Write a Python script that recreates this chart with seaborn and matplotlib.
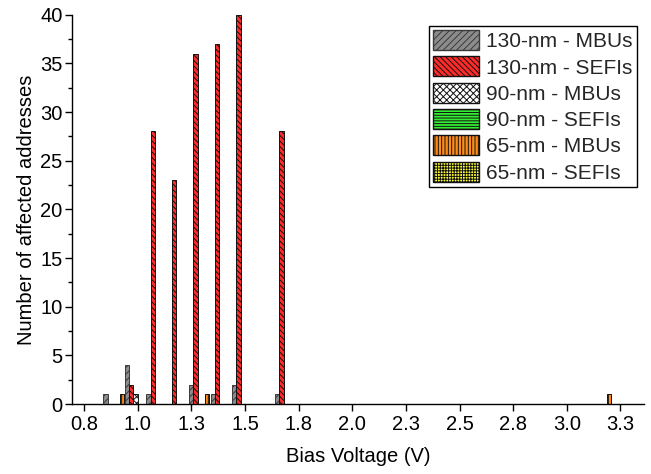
import matplotlib
matplotlib.use("Agg")
import matplotlib.pyplot as plt
import seaborn as sns
import numpy as np
import pandas as pd
from matplotlib.patches import Patch
from matplotlib.ticker import MultipleLocator, FixedLocator

# ---- data ----
series_names = ["130-nm - MBUs", "130-nm - SEFIs", "90-nm - MBUs",
                "90-nm - SEFIs", "65-nm - MBUs", "65-nm - SEFIs"]
mbu130_v = [0.85, 0.95, 1.05, 1.25, 1.35, 1.45, 1.65]
mbu130_n = [1, 4, 1, 2, 1, 2, 1]
sefi130_v = [0.97, 1.07, 1.17, 1.27, 1.37, 1.47, 1.67]
sefi130_n = [2, 28, 23, 36, 37, 40, 28]
mbu90_v = [0.99]
mbu90_n = [1]
sefi90_v = []
sefi90_n = []
mbu65_v = [0.926, 1.324, 3.197]
mbu65_n = [1, 1, 1]
sefi65_v = []
sefi65_n = []

xtick_vals = [0.75, 1.0, 1.25, 1.5, 1.75, 2.0, 2.25, 2.5, 2.75, 3.0, 3.25]
xtick_labels = ["0.8", "1.0", "1.3", "1.5", "1.8", "2.0", "2.3", "2.5", "2.8", "3.0", "3.3"]

series_v = [mbu130_v, sefi130_v, mbu90_v, sefi90_v, mbu65_v, sefi65_v]
series_n = [mbu130_n, sefi130_n, mbu90_n, sefi90_n, mbu65_n, sefi65_n]

# ---- styles ----
faces = ["#8c8c8c", "#ff2a2a", "#ffffff", "#33ee33", "#ff8c1a", "#ffff33"]
hatch_cols = ["#3a3a3a", "#111111", "#111111", "#111111", "#111111", "#111111"]
BSL = chr(92)
hatches = ["/" * 5, BSL * 6, "x" * 5, "-" * 6, "|" * 5, "+" * 6]
BAR_W = 0.0205

sns.set_style("ticks")
plt.rcParams["font.family"] = ["Liberation Sans", "DejaVu Sans"]
plt.rcParams["hatch.linewidth"] = 0.7

fig = plt.figure(figsize=(6.51, 4.74), dpi=100)
ax = fig.add_axes([72.3 / 651, 70 / 474, (644 - 72.3) / 651, (404 - 14.7) / 474])

for name, vs, ns, fc, h, hc in zip(series_names, series_v, series_n, faces, hatches, hatch_cols):
    if len(vs) == 0:
        continue
    df = pd.DataFrame({"v": vs, "n": ns})
    before = len(ax.patches)
    sns.barplot(data=df, x="v", y="n", native_scale=True, color=fc,
                errorbar=None, ax=ax, saturation=1)
    for p in ax.patches[before:]:
        cx = p.get_x() + p.get_width() / 2
        p.set_width(BAR_W)
        p.set_x(cx - BAR_W / 2)
        p.set_facecolor(fc)
        p.set_hatch(h)
        p.set_edgecolor(hc)
        p.set_linewidth(0.7)

ax.set_xlim(0.695, 3.36)
ax.set_ylim(0, 40)
ax.xaxis.set_major_locator(FixedLocator(xtick_vals))
ax.set_xticklabels(xtick_labels)
ax.yaxis.set_major_locator(MultipleLocator(5))
ax.yaxis.set_minor_locator(MultipleLocator(2.5))
ax.tick_params(axis="both", which="major", direction="out", length=5, width=1,
               labelsize=14.5, color="black", labelcolor="black")
ax.tick_params(axis="y", which="major", pad=2)
ax.tick_params(axis="x", which="major", pad=3)
ax.tick_params(axis="y", which="minor", direction="out", length=3, width=1, color="black")
for s in ["top", "right"]:
    ax.spines[s].set_visible(False)
for s in ["left", "bottom"]:
    ax.spines[s].set_color("black")
    ax.spines[s].set_linewidth(1)

ax.set_xlabel("Bias Voltage (V)", fontsize=14.5, color="black", labelpad=9)
ax.set_ylabel("Number of affected addresses", fontsize=14.5, color="black", labelpad=3)

handles = [Patch(facecolor=fc, edgecolor=hc, hatch=h, linewidth=1, label=n)
           for n, fc, h, hc in zip(series_names, faces, hatches, hatch_cols)]
leg = ax.legend(handles=handles, loc="upper right",
                bbox_to_anchor=(637 / 651, 1 - 26 / 474), bbox_transform=fig.transFigure,
                fontsize=15, frameon=True, fancybox=False, framealpha=1,
                edgecolor="black", handlelength=2.2, handleheight=1.1,
                handletextpad=0.35, labelspacing=0.25, borderpad=0.2,
                borderaxespad=0)
leg.get_frame().set_linewidth(1)

fig.savefig("out.png", dpi=100)
